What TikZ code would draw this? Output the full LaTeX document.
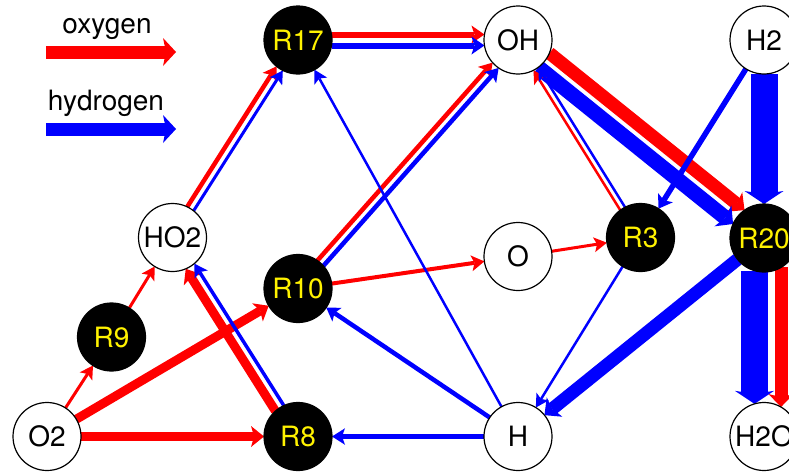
\documentclass[tikz,border=0pt]{standalone}
\usepackage{fontspec}
\setmainfont{TeX Gyre Heros}
\usetikzlibrary{arrows.meta,calc,backgrounds}
\definecolor{oxy}{RGB}{255,0,0}
\definecolor{hyd}{RGB}{0,0,255}
\tikzset{
  species/.style={circle, draw=black, line width=1.2pt, fill=white, minimum size=68pt, inner sep=0pt, font=\fontsize{28}{30}\selectfont},
  reac/.style={species, fill=black, text=yellow},
  legendtext/.style={font=\fontsize{28}{30}\selectfont, anchor=base, inner sep=0pt},
}
% #1 colour, #2 width, #3 from, #4 to, #5 side offset (positive = left of direction)
\newcommand\rflow[5]{%
  \pgfmathsetmacro\flhw{#2+12}%
  \pgfmathsetmacro\flsh{sqrt(34*34-(#5)*(#5))}%
  \draw[draw=#1, line width=#2pt, shorten <=\flsh pt, shorten >=\flsh pt,
        -{Stealth[length=13pt, width=\flhw pt, inset=3pt, line width=0pt]}]
     ($(#3)!#5pt!90:(#4)$) -- ($(#4)!#5pt!-90:(#3)$);
}
\begin{document}
\begin{tikzpicture}[x=1pt,y=1pt]
\useasboundingbox (0,0) rectangle (789,-471);
% legend
\node[legendtext] (toxy) at (107,-33) {oxygen};
\node[legendtext] (thyd) at (106,-110) {hydrogen};
\coordinate (lo1) at (46,-52);
\coordinate (lo2) at (176,-52);
\coordinate (lh1) at (46,-129);
\coordinate (lh2) at (176,-129);
\draw[draw=oxy, line width=13pt, -{Stealth[length=13pt, width=28pt, inset=3pt, line width=0pt]}] (lo1) -- (lo2);
\draw[draw=hyd, line width=13pt, -{Stealth[length=13pt, width=28pt, inset=3pt, line width=0pt]}] (lh1) -- (lh2);
% nodes
\node[species] (O2)  at (47,-436.5) {O2};
\node[reac]    (R8)  at (298,-436.5) {R8};
\node[species] (H)   at (518,-436.5) {H};
\node[species] (H2O) at (764,-436.5) {H2O};
\node[reac]    (R9)  at (111.5,-337) {R9};
\node[species] (HO2) at (172.5,-237.5) {HO2};
\node[reac]    (R10) at (298,-288.5) {R10};
\node[species] (O)   at (518,-256.5) {O};
\node[reac]    (R3)  at (640.5,-237.5) {R3};
\node[reac]    (R20) at (764,-238) {R20};
\node[reac]    (R17) at (298,-40) {R17};
\node[species] (OH)  at (518,-40) {OH};
\node[species] (H2)  at (764,-40) {H2};
\begin{pgfonlayer}{background}
% thick flows
\rflow{oxy}{9}{O2}{R10}{0}
\rflow{oxy}{9}{O2}{R8}{0}
\rflow{oxy}{9}{R8}{HO2}{5.5}
\rflow{hyd}{3.5}{R8}{HO2}{-4.5}
\rflow{oxy}{13}{OH}{R20}{9.5}
\rflow{hyd}{15}{OH}{R20}{-8.5}
\rflow{oxy}{13}{R20}{H2O}{17}
\rflow{hyd}{27}{R20}{H2O}{-9.5}
\rflow{hyd}{27}{H2}{R20}{0}
\rflow{hyd}{13}{R20}{H}{0}
% medium and thin flows
\rflow{hyd}{5.5}{H2}{R3}{0}
\rflow{oxy}{3}{O2}{R9}{0}
\rflow{oxy}{3}{R9}{HO2}{0}
\rflow{oxy}{4.5}{HO2}{R17}{4}
\rflow{hyd}{3}{HO2}{R17}{-3.5}
\rflow{oxy}{6}{R17}{OH}{5.5}
\rflow{hyd}{6}{R17}{OH}{-5.5}
\rflow{oxy}{4.5}{R10}{OH}{4}
\rflow{hyd}{4.5}{R10}{OH}{-4}
\rflow{oxy}{4}{R10}{O}{0}
\rflow{oxy}{3}{O}{R3}{0}
\rflow{oxy}{2.5}{R3}{OH}{2.8}
\rflow{hyd}{2.5}{R3}{OH}{-2.8}
\rflow{hyd}{2.5}{R3}{H}{0}
\rflow{hyd}{2.5}{H}{R17}{0}
\rflow{hyd}{4.5}{H}{R10}{0}
\rflow{hyd}{4.5}{H}{R8}{0}
\end{pgfonlayer}
\end{tikzpicture}
\end{document}
